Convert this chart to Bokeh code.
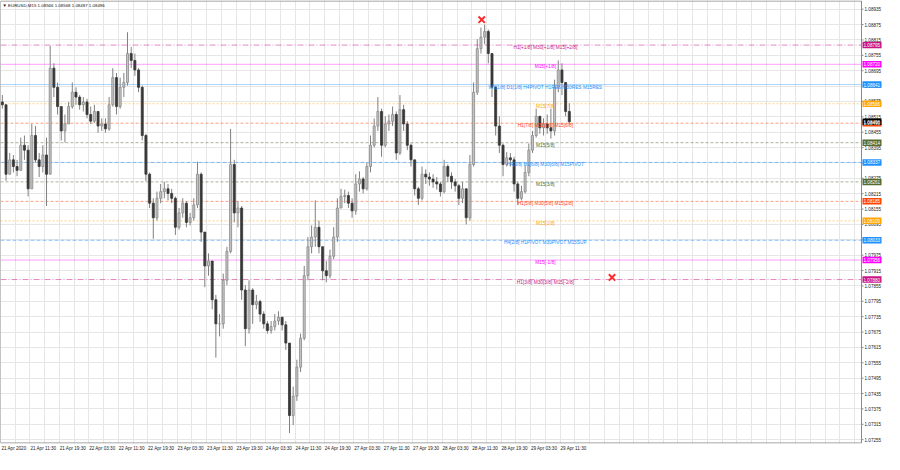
from bokeh.plotting import figure
from bokeh.models import Range1d, FixedTicker, Span, ColumnDataSource
from bokeh.embed import file_html
from bokeh.resources import INLINE
from bokeh.core.properties import value

# ---------------- data (hourly view of EURUSD M15 chart) ----------------
symbol = "EURUSD,M15"
last_bar = [1.08566, 1.08568, 1.08487, 1.08496]   # O H L C of last M15 bar
first_open = 1.08573

close = [
    1.08562, 1.08291, 1.08347, 1.08321, 1.08306, 1.08404, 1.08385, 1.08234, 1.08442, 1.08347,
    1.08321, 1.08366, 1.08291, 1.08705, 1.08630, 1.08555, 1.08460, 1.08487, 1.08555, 1.08611,
    1.08592, 1.08562, 1.08573, 1.08524, 1.08498, 1.08536, 1.08479, 1.08487, 1.08468, 1.08562,
    1.08668, 1.08555, 1.08630, 1.08649, 1.08762, 1.08735, 1.08698, 1.08630, 1.08442, 1.08291,
    1.08178, 1.08121, 1.08197, 1.08223, 1.08234, 1.08216, 1.08197, 1.08084, 1.08140, 1.08178,
    1.08103, 1.08121, 1.08171, 1.08291, 1.08065, 1.07933, 1.07952, 1.07801, 1.07707, 1.07707,
    1.07877, 1.07990, 1.08329, 1.08140, 1.08159, 1.07839, 1.07688, 1.07839, 1.07782, 1.07794,
    1.07745, 1.07707, 1.07681, 1.07696, 1.07718, 1.07733, 1.07703, 1.07632, 1.07349, 1.07425,
    1.07538, 1.07651, 1.07895, 1.08008, 1.08046, 1.08084, 1.08008, 1.07914, 1.07895, 1.07971,
    1.08046, 1.08159, 1.08204, 1.08208, 1.08178, 1.08148, 1.08253, 1.08272, 1.08234, 1.08321,
    1.08404, 1.08479, 1.08536, 1.08404, 1.08487, 1.08498, 1.08524, 1.08374, 1.08543, 1.08487,
    1.08404, 1.08347, 1.08234, 1.08197, 1.08291, 1.08280, 1.08272, 1.08261, 1.08253, 1.08223,
    1.08321, 1.08283, 1.08261, 1.08246, 1.08197, 1.08234, 1.08121, 1.08329, 1.08611, 1.08781,
    1.08826, 1.08848, 1.08762, 1.08630, 1.08479, 1.08404, 1.08329, 1.08355, 1.08347, 1.08253,
    1.08197, 1.08223, 1.08298, 1.08385, 1.08442, 1.08517, 1.08472, 1.08487, 1.08472, 1.08460,
    1.08630, 1.08698, 1.08649, 1.08536, 1.08496,
]
high = [
    1.08600, 1.08562, 1.08374, 1.08366, 1.08347, 1.08434, 1.08442, 1.08404, 1.08487, 1.08479,
    1.08374, 1.08404, 1.08434, 1.08792, 1.08724, 1.08649, 1.08555, 1.08524, 1.08573, 1.08649,
    1.08630, 1.08600, 1.08592, 1.08585, 1.08555, 1.08562, 1.08536, 1.08509, 1.08509, 1.08592,
    1.08705, 1.08686, 1.08668, 1.08686, 1.08845, 1.08788, 1.08762, 1.08705, 1.08637, 1.08449,
    1.08298, 1.08197, 1.08223, 1.08253, 1.08261, 1.08253, 1.08234, 1.08204, 1.08159, 1.08197,
    1.08186, 1.08140, 1.08197, 1.08340, 1.08298, 1.08065, 1.07982, 1.07952, 1.07820, 1.07745,
    1.07903, 1.08008, 1.08468, 1.08347, 1.08186, 1.08167, 1.07858, 1.07877, 1.07846, 1.07820,
    1.07801, 1.07756, 1.07718, 1.07718, 1.07745, 1.07756, 1.07733, 1.07718, 1.07632, 1.07462,
    1.07567, 1.07669, 1.07933, 1.08046, 1.08091, 1.08189, 1.08110, 1.08008, 1.07952, 1.07997,
    1.08084, 1.08197, 1.08234, 1.08231, 1.08223, 1.08197, 1.08291, 1.08302, 1.08280, 1.08336,
    1.08442, 1.08509, 1.08592, 1.08547, 1.08517, 1.08524, 1.08555, 1.08536, 1.08600, 1.08562,
    1.08498, 1.08411, 1.08347, 1.08242, 1.08321, 1.08310, 1.08298, 1.08291, 1.08280, 1.08261,
    1.08347, 1.08329, 1.08298, 1.08272, 1.08253, 1.08261, 1.08234, 1.08366, 1.08649, 1.08818,
    1.08863, 1.08875, 1.08856, 1.08762, 1.08637, 1.08517, 1.08411, 1.08377, 1.08374, 1.08359,
    1.08261, 1.08246, 1.08329, 1.08411, 1.08460, 1.08547, 1.08517, 1.08509, 1.08524, 1.08547,
    1.08660, 1.08735, 1.08724, 1.08649, 1.08568,
]
low = [
    1.08547, 1.08265, 1.08291, 1.08298, 1.08283, 1.08306, 1.08347, 1.08204, 1.08234, 1.08336,
    1.08280, 1.08298, 1.08167, 1.08291, 1.08592, 1.08524, 1.08423, 1.08415, 1.08487, 1.08547,
    1.08562, 1.08543, 1.08536, 1.08509, 1.08487, 1.08491, 1.08453, 1.08460, 1.08453, 1.08460,
    1.08555, 1.08524, 1.08547, 1.08592, 1.08637, 1.08705, 1.08675, 1.08611, 1.08423, 1.08265,
    1.08159, 1.08039, 1.08110, 1.08178, 1.08197, 1.08189, 1.08178, 1.08054, 1.08075, 1.08121,
    1.08084, 1.08091, 1.08110, 1.08159, 1.08027, 1.07850, 1.07895, 1.07764, 1.07575, 1.07658,
    1.07688, 1.07858, 1.07982, 1.08103, 1.08084, 1.07801, 1.07620, 1.07669, 1.07707, 1.07764,
    1.07715, 1.07688, 1.07669, 1.07669, 1.07681, 1.07703, 1.07681, 1.07605, 1.07281, 1.07312,
    1.07406, 1.07519, 1.07643, 1.07877, 1.07982, 1.08008, 1.07982, 1.07877, 1.07869, 1.07884,
    1.07959, 1.08027, 1.08159, 1.08178, 1.08159, 1.08121, 1.08133, 1.08223, 1.08216, 1.08227,
    1.08298, 1.08396, 1.08460, 1.08359, 1.08396, 1.08460, 1.08479, 1.08347, 1.08366, 1.08460,
    1.08385, 1.08321, 1.08208, 1.08171, 1.08189, 1.08253, 1.08246, 1.08238, 1.08231, 1.08204,
    1.08216, 1.08261, 1.08234, 1.08223, 1.08171, 1.08178, 1.08095, 1.08110, 1.08321, 1.08600,
    1.08762, 1.08799, 1.08724, 1.08592, 1.08442, 1.08374, 1.08283, 1.08321, 1.08321, 1.08223,
    1.08171, 1.08189, 1.08216, 1.08283, 1.08374, 1.08434, 1.08449, 1.08442, 1.08449, 1.08430,
    1.08442, 1.08611, 1.08600, 1.08517, 1.08487,
]

date_labels = ["21 Apr 2020", "21 Apr 11:30", "21 Apr 19:30", "22 Apr 03:30", "22 Apr 11:30",
               "22 Apr 19:30", "23 Apr 03:30", "23 Apr 11:30", "23 Apr 19:30", "24 Apr 03:30",
               "24 Apr 11:30", "24 Apr 19:30", "27 Apr 03:30", "27 Apr 11:30", "27 Apr 19:30",
               "28 Apr 03:30", "28 Apr 11:30", "28 Apr 19:30", "29 Apr 03:30", "29 Apr 11:30"]

price_tick_top = 1.08935
price_tick_step = 0.0006
price_tick_count = 29

level_prices = [1.08795, 1.08720, 1.08641, 1.08566, 1.08490, 1.08414, 1.08337,
                1.08261, 1.08185, 1.08109, 1.08033, 1.07956, 1.07880]
level_texts = ["H1[+1/8] M30[+1/8] M15[+2/8]", "M15[+1/8]",
               "W1[1/8] D1[1/8] H4PIVOT H1RES M30RES M15RES", "M15[7/8]",
               "H1[7/8] M30[7/8] M15[6/8]", "M15[5/8]",
               "H4[3/8] H1[6/8] M30[6/8] M15PIVOT", "M15[3/8]",
               "H1[5/8] M30[5/8] M15[2/8]", "M15[1/8]",
               "H4[2/8] H1PIVOT M30PIVOT M15SUP", "M15[-1/8]",
               "H1[3/8] M30[3/8] M15[-2/8]"]
level_colors = ["#C71585", "#FF00FF", "#1E90FF", "#FFA500", "#FF4500", "#556B2F", "#1E90FF",
                "#556B2F", "#FF4500", "#FFA500", "#1E90FF", "#FF00FF", "#C71585"]
level_dashes = ["6 2 1 2", "solid", "solid", "2 2", "3 2", "3 2", "4 2",
                "3 2", "3 2", "2 2", "4 2", "solid", "6 2 1 2"]

target_time = [130.7, 166.1]      # hours from chart start
target_price = [1.08894, 1.07888]

# ---------------- layout constants ----------------
FONT = "Liberation Sans"
FS = "4.6px"
W, H = 884, 454
CHART_PX = 861                   # width of the candle area, the rest is the price scale
FRAME_H = H - 11
HOURS_VISIBLE = 877 / 3.75       # hours shown in the candle area
PX = HOURS_VISIBLE / CHART_PX    # hours per pixel
X_END = W * PX
Y_TOP, Y_BOT = 1.08969, 1.07240
PY = (Y_TOP - Y_BOT) / FRAME_H   # price per pixel

n = len(close)
opens = [first_open] + close[:-1]
xs = [i + 0.5 for i in range(n)]
bull = [c >= o for o, c in zip(opens, close)]
src = ColumnDataSource(dict(
    x=xs, open=opens, high=high, low=low, close=close,
    top=[max(o, c) for o, c in zip(opens, close)],
    bottom=[min(o, c) for o, c in zip(opens, close)],
    fill=["#c4c4c4" if b else "#383838" for b in bull],
    edge=["#8a8a8a" if b else "#383838" for b in bull],
))

price_ticks = [round(price_tick_top - k * price_tick_step, 5) for k in range(price_tick_count)]

p = figure(width=W, height=H, x_range=Range1d(0, X_END), y_range=Range1d(Y_BOT, Y_TOP),
           toolbar_location=None, tools="", output_backend="svg",
           min_border_left=0, min_border_top=0, min_border_right=0, min_border_bottom=11)
p.yaxis.visible = False
p.background_fill_color = "white"
p.border_fill_color = "white"
p.outline_line_color = None

# grid
p.xgrid.ticker = FixedTicker(ticks=[4 * k for k in range(62)])
p.ygrid.ticker = FixedTicker(ticks=price_ticks)
p.grid.grid_line_color = "#e6e6e6"
p.grid.grid_line_width = 1

# bottom time axis
xt = [8 * k + 3.65 for k in range(len(date_labels))]
p.xaxis.ticker = FixedTicker(ticks=xt)
p.xaxis.major_label_overrides = {t: lab for t, lab in zip(xt, date_labels)}
p.xaxis.major_label_text_font = FONT
p.xaxis.major_label_text_font_size = FS
p.xaxis.major_label_text_color = "#222222"
p.xaxis.major_tick_out = 0
p.xaxis.major_tick_in = 0
p.xaxis.minor_tick_out = 0
p.xaxis.minor_tick_in = 0
p.xaxis.major_tick_line_color = None
p.xaxis.minor_tick_line_color = None
p.xaxis.axis_line_color = None
p.xaxis.major_label_standoff = 2

# level lines (under the candles)
for pr, col, dash in zip(level_prices, level_colors, level_dashes):
    p.add_layout(Span(location=pr, dimension="width", line_color=col, level="underlay",
                      line_dash=dash, line_width=1,
                      line_alpha=0.38 if dash == "solid" else 0.5))

# candles
p.segment(x0="x", y0="low", x1="x", y1="high", source=src, line_color="#808080", line_width=1)
p.vbar(x="x", width=0.55, top="top", bottom="bottom", source=src,
       fill_color="fill", line_color="edge", line_width=0.8)

# level texts
label_x = 555 / 3.75
p.text(x=[label_x] * len(level_prices), y=level_prices, text=level_texts,
       text_color=level_colors, text_align="center", text_baseline="top",
       text_font=value(FONT), text_font_size="4.8px")

# target markers
p.scatter(target_time, target_price, marker="x", size=9, line_color="#ff2a2a", line_width=2)

# ---- price scale on the right ----
p.quad(left=[HOURS_VISIBLE], right=[X_END], bottom=[Y_BOT], top=[Y_TOP],
       fill_color="white", line_color=None)
p.quad(left=[0], right=[HOURS_VISIBLE], bottom=[Y_BOT + 0.5 * PY], top=[Y_TOP - 0.5 * PY],
       fill_color=None, line_color="#8a8a8a", line_width=1)
p.ray(x=[HOURS_VISIBLE] * len(price_ticks), y=price_ticks, length=2, length_units="screen",
      angle=0, line_color="#8a8a8a", line_width=1)
p.text(x=[HOURS_VISIBLE + 3 * PX] * len(price_ticks), y=price_ticks,
       text=[f"{t:.5f}" for t in price_ticks], text_align="left", text_baseline="middle",
       text_font=value(FONT), text_font_size=FS, text_color="#222222")

tag_prices = level_prices + [last_bar[3]]
tag_colors = level_colors + ["#000000"]
p.rect(x=[HOURS_VISIBLE + 10.5 * PX] * len(tag_prices), y=tag_prices, width=19, height=6.5,
       width_units="screen", height_units="screen", fill_color=tag_colors, line_color=None)
p.text(x=[HOURS_VISIBLE + 2 * PX] * len(tag_prices), y=tag_prices,
       text=[f"{t:.5f}" for t in tag_prices], text_align="left", text_baseline="middle",
       text_font=value(FONT), text_font_size=FS, text_color="white")

# title
title_text = "\u25BC " + symbol + "  " + " ".join(f"{v:.5f}" for v in last_bar)
p.text(x=[2 * PX], y=[Y_TOP - 5 * PY], text=[title_text], text_align="left",
       text_baseline="middle", text_font=value(FONT), text_font_size="4.4px",
       text_color="#111111")

open("out.html", "w").write(file_html(p, INLINE))
